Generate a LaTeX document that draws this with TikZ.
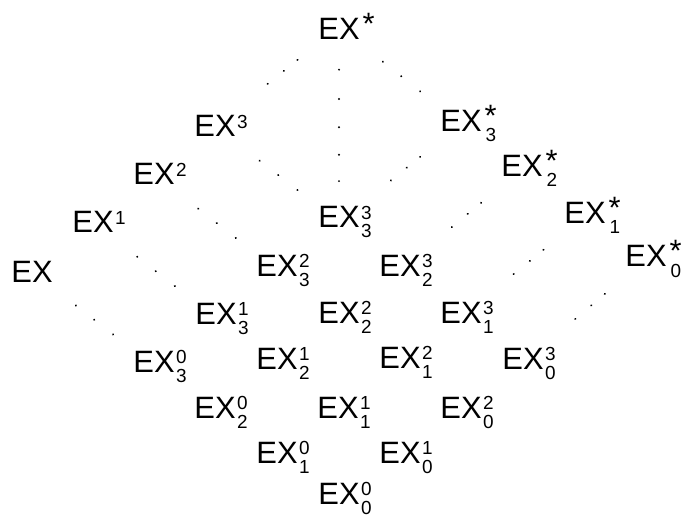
\documentclass[tikz,border=0pt]{standalone}
\usepackage{fontspec}
\setmainfont{Liberation Sans}
\usetikzlibrary{decorations.markings}

% font sizes
\newcommand{\bigf}{\fontsize{31}{31}\selectfont}
\newcommand{\scrf}{\fontsize{19}{19}\selectfont}

% EX with scripts (the scripts take no width, so the node is just EX)
\newcommand{\exup}[1]{EX\rlap{\kern1.5bp\raisebox{8.6bp}{\scrf #1}}}
\newcommand{\exud}[2]{EX\rlap{\kern1.5bp\raisebox{8.6bp}{\scrf #1}}\rlap{\kern1.5bp\raisebox{-10bp}{\scrf #2}}}
\newcommand{\exstar}{EX\rlap{\kern3bp\raisebox{5.5bp}{*}}}
\newcommand{\exsd}[1]{EX\rlap{\kern3bp\raisebox{5bp}{*}}\rlap{\kern4bp\raisebox{-10bp}{\scrf #1}}}

\tikzset{
  lbl/.style={anchor=base, inner sep=0pt, font=\bigf},
  dot/.style={postaction={decorate, decoration={markings,
      mark=at position #1 with {\fill circle (1.1bp);}}}},
  sedots/.style={dot=0.36, dot=0.51, dot=0.665},
  swdots/.style={dot=0.335, dot=0.445, dot=0.575},
  vdots/.style={dot=0.22, dot=0.37, dot=0.515, dot=0.655, dot=0.79}
}

\begin{document}
\begin{tikzpicture}[x=1bp, y=-1bp]
    \useasboundingbox (0,0) rectangle (683,515);

    % top
    \node[lbl] (exs) at (339,40) {\exstar};

    % left wing
    \node[lbl] (ex3) at (215,137) {\exup{3}};
    \node[lbl] (ex2) at (154,185) {\exup{2}};
    \node[lbl] (ex1) at (93,233) {\exup{1}};
    \node[lbl] (ex) at (32,282) {EX};

    % right wing
    \node[lbl] (exs3) at (461,132) {\exsd{3}};
    \node[lbl] (exs2) at (522,177) {\exsd{2}};
    \node[lbl] (exs1) at (585,224) {\exsd{1}};
    \node[lbl] (exs0) at (646,267) {\exsd{0}};

    % grid
    \node[lbl] (ex33) at (339,228) {\exud{3}{3}};
    \node[lbl] (ex23) at (277,276) {\exud{2}{3}};
    \node[lbl] (ex32) at (400,276) {\exud{3}{2}};
    \node[lbl] (ex13) at (216,324) {\exud{1}{3}};
    \node[lbl] (ex22) at (339,323) {\exud{2}{2}};
    \node[lbl] (ex31) at (461,323) {\exud{3}{1}};
    \node[lbl] (ex03) at (154,372) {\exud{0}{3}};
    \node[lbl] (ex12) at (277,369) {\exud{1}{2}};
    \node[lbl] (ex21) at (400,368) {\exud{2}{1}};
    \node[lbl] (ex30) at (523,369) {\exud{3}{0}};
    \node[lbl] (ex02) at (215,418) {\exud{0}{2}};
    \node[lbl] (ex11) at (338,418) {\exud{1}{1}};
    \node[lbl] (ex20) at (461,418) {\exud{2}{0}};
    \node[lbl] (ex01) at (277,463) {\exud{0}{1}};
    \node[lbl] (ex10) at (400,463) {\exud{1}{0}};
    \node[lbl] (ex00) at (339,504) {\exud{0}{0}};

    % dotted limits
    \path[swdots] (exs.center) -- (ex3.center);
    \path[sedots] (exs.center) -- (exs3.center);
    \path[vdots] (exs.center) -- (ex33.center);
    \path[sedots] (ex3.center) -- (ex33.center);
    \path[sedots] (ex2.center) -- (ex23.center);
    \path[sedots] (ex1.center) -- (ex13.center);
    \path[sedots] (ex.center) -- (ex03.center);
    \path[swdots] (exs3.center) -- (ex33.center);
    \path[swdots] (exs2.center) -- (ex32.center);
    \path[swdots] (exs1.center) -- (ex31.center);
    \path[swdots] (exs0.center) -- (ex30.center);

\end{tikzpicture}
\end{document}
